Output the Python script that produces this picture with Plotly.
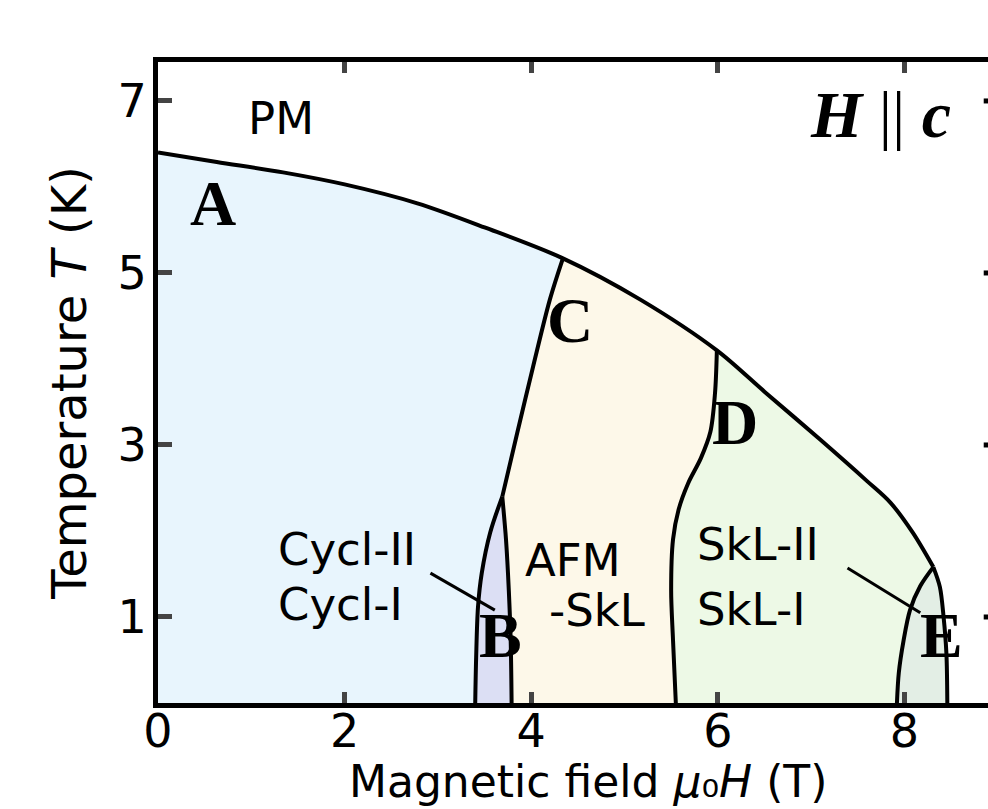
import plotly.graph_objects as go

# Phase boundaries for H || c (field in T, temperature in K)
# upper line: ordered phases -> paramagnet (PM)
tc_field = [0.0, 0.63, 1.34, 2.0, 2.78, 3.5, 4.34, 5.17, 5.99, 6.5, 7.1, 7.6, 7.85, 8.09, 8.31]
tc_temp = [6.40, 6.29, 6.17, 6.03, 5.81, 5.53, 5.17, 4.69, 4.10, 3.62, 3.06, 2.58, 2.33, 1.98, 1.58]

# Cycl / AFM-SkL boundary (from point C down to the Cycl-II pocket)
c_field = [4.34, 4.20, 4.02, 3.85, 3.69]
c_temp = [5.17, 4.69, 3.91, 3.14, 2.40]

# Cycl-II pocket (B): left and right edges
b_left_field = [3.69, 3.56, 3.47, 3.43, 3.41, 3.40]
b_left_temp = [2.40, 1.98, 1.51, 1.12, 0.53, 0.0]
b_right_field = [3.69, 3.73, 3.76, 3.78, 3.79]
b_right_temp = [2.40, 1.90, 1.31, 0.73, 0.0]

# AFM-SkL / SkL boundary (from point D)
d_field = [5.99, 5.97, 5.92, 5.82, 5.68, 5.58, 5.52, 5.50, 5.52, 5.55]
d_temp = [4.10, 3.60, 3.15, 2.85, 2.55, 2.25, 1.90, 1.31, 0.73, 0.0]

# SkL-II pocket (E): inner and outer edges
e_inner_field = [8.31, 8.17, 8.06, 7.99, 7.94, 7.92]
e_inner_temp = [1.58, 1.36, 1.08, 0.72, 0.35, 0.0]
e_outer_field = [8.31, 8.38, 8.42, 8.45, 8.46]
e_outer_temp = [1.58, 1.35, 1.00, 0.58, 0.0]

x_ticks = [0, 2, 4, 6, 8]
y_ticks = [1, 3, 5, 7]

FONT = "DejaVu Sans"
SERIF = "Liberation Serif"

i_c = tc_field.index(c_field[0])
i_d = tc_field.index(d_field[0])

# region outlines assembled from the boundaries
regions = [
    ("Cycl-I", "#e8f5fd",
     [0.0] + tc_field[:i_c + 1] + c_field[1:] + b_left_field[1:],
     [0.0] + tc_temp[:i_c + 1] + c_temp[1:] + b_left_temp[1:]),
    ("Cycl-II", "#dcdff4",
     b_left_field + b_right_field[::-1],
     b_left_temp + b_right_temp[::-1]),
    ("AFM-SkL", "#fdf8e9",
     tc_field[i_c:i_d + 1] + d_field[1:] + b_right_field[::-1] + c_field[::-1][1:],
     tc_temp[i_c:i_d + 1] + d_temp[1:] + b_right_temp[::-1] + c_temp[::-1][1:]),
    ("SkL-I", "#edf9e6",
     tc_field[i_d:] + e_inner_field[1:] + d_field[::-1],
     tc_temp[i_d:] + e_inner_temp[1:] + d_temp[::-1]),
    ("SkL-II", "#e3eee5",
     e_outer_field + e_inner_field[::-1],
     e_outer_temp + e_inner_temp[::-1]),
]

fig = go.Figure()
for name, color, xs, ys in regions:
    fig.add_trace(go.Scatter(x=xs, y=ys, fill="toself", fillcolor=color,
                             mode="lines", line=dict(width=0), name=name,
                             hoverinfo="skip", showlegend=False))

boundaries = [
    (tc_field, tc_temp), (c_field, c_temp),
    (b_left_field, b_left_temp), (b_right_field, b_right_temp),
    (d_field, d_temp), (e_inner_field, e_inner_temp), (e_outer_field, e_outer_temp),
]
for xs, ys in boundaries:
    fig.add_trace(go.Scatter(x=xs, y=ys, mode="lines",
                             line=dict(color="black", width=4, shape="spline", smoothing=0.9),
                             hoverinfo="skip", showlegend=False))

annotations = []


def label(x, y, text, size=44, family=FONT, xanchor="center"):
    annotations.append(dict(x=x, y=y, xref="x", yref="y", text=text, showarrow=False,
                            xanchor=xanchor, yanchor="middle",
                            font=dict(family=family, size=size, color="black")))


label(1.32, 6.80, "PM", size=45)
label(1.27, 1.78, "Cycl-II", size=45, xanchor="left")
label(1.27, 1.14, "Cycl-I", size=45, xanchor="left")
label(4.45, 1.66, "AFM", size=45)
label(4.71, 1.08, "-SkL", size=45)
label(5.76, 1.84, "SkL-II", size=45, xanchor="left")
label(5.76, 1.09, "SkL-I", size=45, xanchor="left")

for x, y, t in [(0.59, 5.81, "A"), (3.67, 0.79, "B"), (4.42, 4.45, "C"),
                (6.18, 3.26, "D"), (8.40, 0.78, "E")]:
    label(x, y, "<b>" + t + "</b>", size=64, family=SERIF)

label(7.74, 6.84, "<b><i>H</i></b> || <b><i>c</i></b>", size=66, family=SERIF)

# axis titles
annotations.append(dict(x=-0.108, y=0.5, xref="paper", yref="paper", xanchor="center", yanchor="middle",
                        text="Temperature <i>T</i> (K)", textangle=-90, showarrow=False,
                        font=dict(family=FONT, size=48, color="black")))
annotations.append(dict(x=0.518, y=-0.1645, xref="paper", yref="paper", xanchor="center", yanchor="bottom",
                        text="Magnetic field <i>μ</i>₀<i>H</i> (T)", showarrow=False, borderpad=0,
                        font=dict(family=FONT, size=44, color="black")))

shapes = []
# leader lines from the labels to the narrow pockets
shapes.append(dict(type="line", xref="x", yref="y", x0=2.92, y0=1.51, x1=3.61, y1=1.08,
                   line=dict(color="black", width=3)))
shapes.append(dict(type="line", xref="x", yref="y", x0=7.39, y0=1.57, x1=8.17, y1=1.05,
                   line=dict(color="black", width=3)))
# inward ticks of the right-hand frame
for t in y_ticks:
    shapes.append(dict(type="line", xref="x", yref="y", x0=8.85, x1=9.0, y0=t, y1=t,
                       line=dict(color="black", width=5)))

fig.update_layout(
    width=988, height=809,
    margin=dict(l=158, r=0, t=62, b=106),
    paper_bgcolor="white", plot_bgcolor="white",
    annotations=annotations, shapes=shapes,
    xaxis=dict(range=[0, 8.896], tickvals=x_ticks, ticks="inside", ticklen=11, tickwidth=5,
               showline=True, linewidth=5, linecolor="black", mirror="ticks",
               showgrid=False, zeroline=False, ticklabelstandoff=-16,
               tickfont=dict(family=FONT, size=46, color="black")),
    yaxis=dict(range=[0, 7.453], tickvals=y_ticks, ticks="inside", ticklen=14, tickwidth=5,
               showline=True, linewidth=5, linecolor="black", mirror=False,
               showgrid=False, zeroline=False, ticklabelstandoff=-3,
               tickfont=dict(family=FONT, size=46, color="black")),
)

fig.write_html("out.html")
